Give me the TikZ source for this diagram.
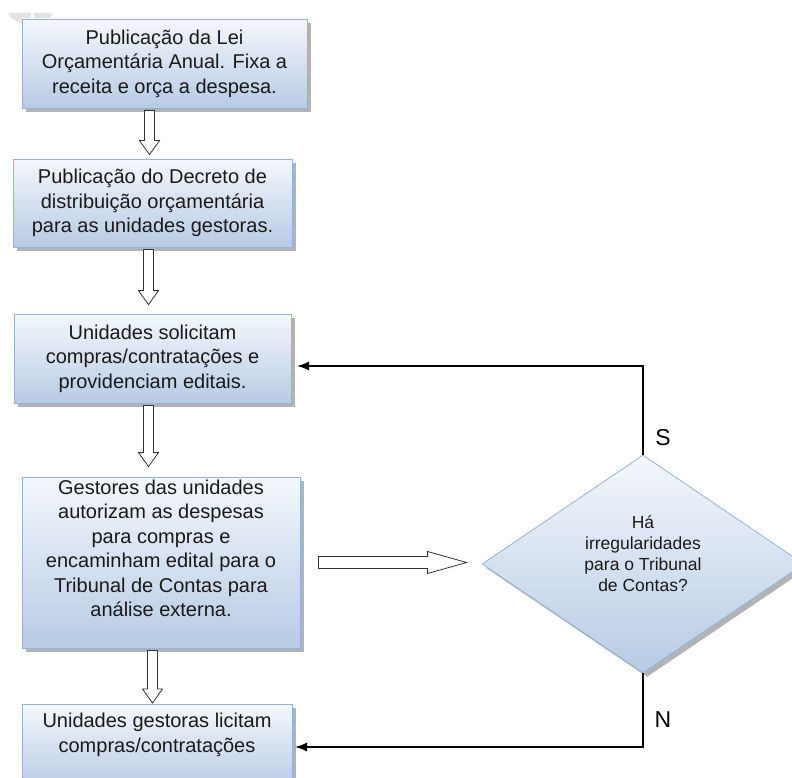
\documentclass[tikz,border=0pt]{standalone}
\usepackage{fontspec}
\setmainfont{Liberation Sans}
\usetikzlibrary{shapes.geometric,shadows,arrows.meta,calc}
\definecolor{boxtop}{HTML}{F4F7FC}
\definecolor{boxbot}{HTML}{B7CBE4}
\definecolor{boxline}{HTML}{95B3D7}
\definecolor{txtcol}{HTML}{1A1A1A}
\newcommand\HollowDown[4]{%
  \draw[hollow] let \p1=(#2), \p2=(#3) in
    (#1pt-5pt,\y1-2pt) -- (#1pt+5pt,\y1-2pt) -- (#1pt+5pt,\y2+#4pt+14pt)
    -- (#1pt+10pt,\y2+#4pt+14pt) -- (#1pt,\y2+#4pt) -- (#1pt-10pt,\y2+#4pt+14pt)
    -- (#1pt-5pt,\y2+#4pt+14pt) -- cycle;}
\begin{document}
\begin{tikzpicture}[x=1pt,y=-1pt,
  flowbox/.style={rectangle, draw=boxline, line width=0.8pt,
    top color=boxtop, bottom color=boxbot,
    drop shadow={shadow xshift=4pt,shadow yshift=-4pt,fill=black!50,opacity=0.6},
    align=center, inner sep=0pt, text=txtcol,
    font=\fontsize{20}{24.5}\selectfont},
  boxtext/.style={align=center, inner sep=0pt, text=txtcol,
    font=\fontsize{20}{24.5}\selectfont},
  decision/.style={diamond, draw=boxline, line width=0.8pt,
    top color=boxtop, bottom color=boxbot,
    drop shadow={shadow xshift=4pt,shadow yshift=-4pt,fill=black!50,opacity=0.6},
    align=center, inner sep=0pt, text=txtcol,
    minimum width=322pt, minimum height=218pt,
    font=\fontsize{17.5}{21}\selectfont},
  hollow/.style={draw=black!80, fill=white, line width=0.8pt, line join=miter},
  conn/.style={draw=black, line width=1.4pt, -{Latex[length=12pt,width=9pt]}},
  yn/.style={font=\fontsize{23}{25}\selectfont, inner sep=0pt, text=black}]
\path[use as bounding box] (0,0) rectangle (792,778);
\clip (0,0) rectangle (792,778);
\fill[gray!22] (8,13) .. controls (15,28) and (46,28) .. (53,13) -- cycle;
\fill[white] (31,13) rectangle (34,24);

\node[flowbox, minimum width=285pt, minimum height=89pt] (b1) at (164.5,63.5)
  {Publicação da Lei\\Orçamentária Anual. Fixa a\\receita e orça a despesa.};
\node[flowbox, minimum width=279pt, minimum height=88pt] (b2) at (152.5,203)
  {Publicação do Decreto de\\distribuição orçamentária\\para as unidades gestoras.};
\node[flowbox, minimum width=277pt, minimum height=89pt] (b3) at (152.5,358.5)
  {Unidades solicitam\\compras/contratações e\\providenciam editais.};
\node[flowbox, minimum width=278pt, minimum height=171pt] (b4) at (161,562.5)
  {Gestores das unidades\\autorizam as despesas\\para compras e\\encaminham edital para o\\Tribunal de Contas para\\análise externa.\\[4pt]};
\node[flowbox, minimum width=270pt, minimum height=84pt, anchor=north] (b5) at (157,704) {};
\node[boxtext] (t5) at (157,735) {Unidades gestoras licitam\\compras/contratações};

\node[decision] (dia) at (643,564) {Há\\irregularidades\\para o Tribunal\\de Contas?\\\mbox{}};

\HollowDown{149.5}{b1.south}{b2.north}{4}
\HollowDown{148.5}{b2.south}{b3.north}{9}
\HollowDown{148.5}{b3.south}{b4.north}{10}
\HollowDown{152.5}{b4.south}{b5.north}{1}

\draw[hollow] let \p1=(b4.east), \p2=(dia.west) in
  (\x1+18pt,\y1-6pt) -- (\x2-54pt,\y1-6pt) -- (\x2-54pt,\y1-11pt) -- (\x2-15pt,\y1)
  -- (\x2-54pt,\y1+11pt) -- (\x2-54pt,\y1+6pt) -- (\x1+18pt,\y1+6pt) -- cycle;

\coordinate (s1) at (297,366);
\coordinate (n1) at (295,747);
\draw[conn] (dia.north) |- (s1);
\draw[conn] (dia.south) |- (n1);
\node[yn] (ls) at (663,438) {S};
\node[yn] (ln) at (663,720) {N};
\end{tikzpicture}
\end{document}
